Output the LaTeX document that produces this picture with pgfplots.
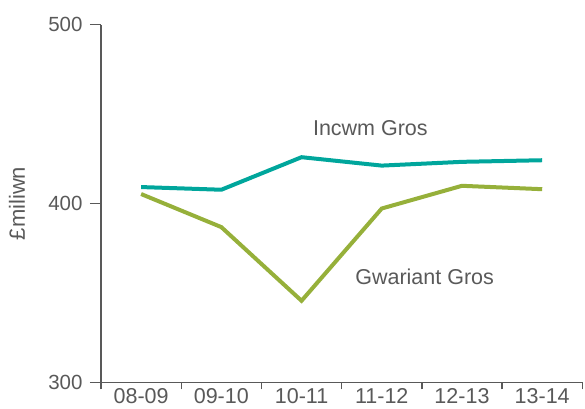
\documentclass[border=0pt]{standalone}
\usepackage{fontspec}
\setmainfont{Liberation Sans}
\usepackage{pgfplots}
\pgfplotsset{compat=1.18}

\definecolor{txtgray}{RGB}{89,89,89}
\definecolor{axgray}{RGB}{89,89,89}
\definecolor{incwm}{RGB}{0,166,156}
\definecolor{gwariant}{RGB}{150,176,58}

\begin{document}
\begin{tikzpicture}
\useasboundingbox (-101pt,-25.7pt) rectangle (484pt,382.3pt);
\begin{axis}[
    at={(0,0)}, anchor=south west,
    scale only axis,
    width=481.3pt, height=357.6pt,
    axis lines*=left,
    axis line style={axgray, line width=1.4pt},
    xmin=-0.5, xmax=5.5,
    ymin=300, ymax=500,
    ytick={300,400,500},
    yticklabels={300,400,500},
    xtick={0,...,5},
    xticklabels={08-09,09-10,10-11,11-12,12-13,13-14},
    minor xtick={-0.5,0.5,...,5.5},
    tick align=outside,
    major tick length=11pt,
    minor tick length=7pt,
    major x tick style={draw=none},
    tick style={axgray, line width=1.4pt},
    tick label style={text=txtgray},
    xticklabel style={font=\fontsize{21.5}{22}\selectfont, yshift=8pt},
    yticklabel style={font=\fontsize{20.5}{21}\selectfont, xshift=-4pt},
    clip=false,
]
\addplot[incwm, line width=4pt] coordinates {
(0,409.2) (1,407.7) (2,425.9) (3,421.2) (4,423.3) (5,424.2)
};
\addplot[gwariant, line width=4pt] coordinates {
(0,405.3) (1,386.8) (2,345.6) (3,397.2) (4,409.9) (5,408.0)
};
\node[font=\fontsize{21.5}{22}\selectfont, text=txtgray] at (axis cs:2.858,442) {Incwm Gros};
\node[font=\fontsize{21.5}{22}\selectfont, text=txtgray] at (axis cs:3.534,359) {Gwariant Gros};
\node[font=\fontsize{22}{23}\selectfont, text=txtgray, rotate=90]
  at ([xshift=-84pt]axis description cs:0,0.5) {£miliwn};
\end{axis}
\end{tikzpicture}
\end{document}
